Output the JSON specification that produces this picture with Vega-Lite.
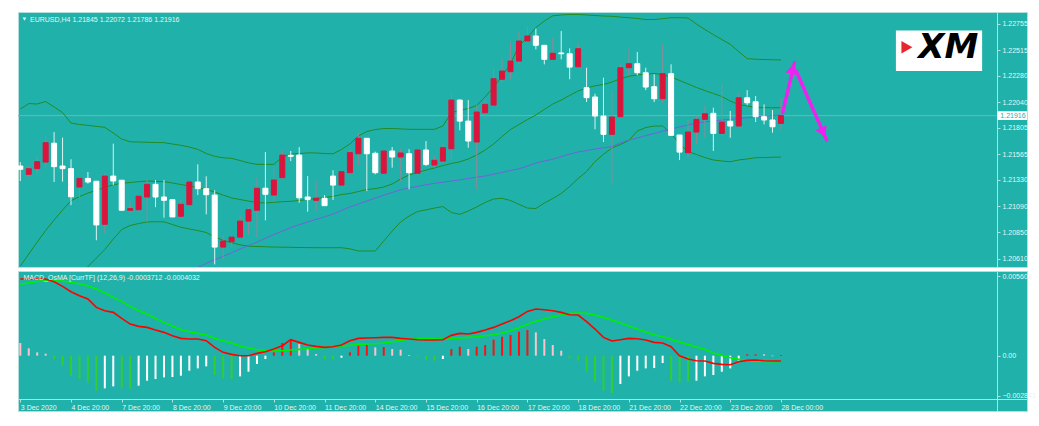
{
"$schema":"https://vega.github.io/schema/vega-lite/v6.json",
"background":"#ffffff",
"padding":{"left":16,"top":11,"right":14,"bottom":18},
"spacing":2,
"config":{
 "view":{"fill":"#20B2AA","stroke":"#b4dedb","strokeWidth":1},
 "font":"Liberation Sans",
 "axis":{"grid":false,"labelFont":"Liberation Sans","labelFontSize":7,"labelColor":"#e8f4f3","domainColor":"#b4dedb","tickColor":"#b4dedb","tickSize":3,"labelOverlap":false,"labelFlush":false}
},
"datasets":{
"bars":[
{"i":0,"o":1.21456,"h":1.21492,"l":1.21319,"c":1.21426,"ub":1.21976,"mb":1.20543,"lb":1.19109,"ma":null},
{"i":1,"o":1.21380,"h":1.21456,"l":1.21358,"c":1.21431,"ub":1.22026,"mb":1.20652,"lb":1.19278,"ma":null},
{"i":2,"o":1.21432,"h":1.21538,"l":1.21380,"c":1.21496,"ub":1.22022,"mb":1.20762,"lb":1.19502,"ma":null},
{"i":3,"o":1.21492,"h":1.21730,"l":1.21435,"c":1.21669,"ub":1.22045,"mb":1.20867,"lb":1.19689,"ma":null},
{"i":4,"o":1.21664,"h":1.21766,"l":1.21310,"c":1.21450,"ub":1.21995,"mb":1.20963,"lb":1.19931,"ma":null},
{"i":5,"o":1.21456,"h":1.21715,"l":1.21313,"c":1.21432,"ub":1.21944,"mb":1.21054,"lb":1.20164,"ma":null},
{"i":6,"o":1.21432,"h":1.21517,"l":1.21099,"c":1.21175,"ub":1.21848,"mb":1.21139,"lb":1.20360,"ma":null},
{"i":7,"o":1.21264,"h":1.21343,"l":1.21166,"c":1.21343,"ub":1.21835,"mb":1.21177,"lb":1.20452,"ma":null},
{"i":8,"o":1.21343,"h":1.21401,"l":1.21295,"c":1.21310,"ub":1.21827,"mb":1.21209,"lb":1.20538,"ma":null},
{"i":9,"o":1.21317,"h":1.21317,"l":1.20778,"c":1.20918,"ub":1.21818,"mb":1.21234,"lb":1.20616,"ma":null},
{"i":10,"o":1.20924,"h":1.21395,"l":1.20840,"c":1.21364,"ub":1.21809,"mb":1.21260,"lb":1.20694,"ma":null},
{"i":11,"o":1.21364,"h":1.21660,"l":1.21282,"c":1.21319,"ub":1.21757,"mb":1.21285,"lb":1.20789,"ma":null},
{"i":12,"o":1.21326,"h":1.21326,"l":1.21052,"c":1.21052,"ub":1.21702,"mb":1.21298,"lb":1.20876,"ma":null},
{"i":13,"o":1.21052,"h":1.21131,"l":1.21036,"c":1.21067,"ub":1.21677,"mb":1.21305,"lb":1.20913,"ma":null},
{"i":14,"o":1.21057,"h":1.21180,"l":1.21045,"c":1.21180,"ub":1.21675,"mb":1.21313,"lb":1.20931,"ma":null},
{"i":15,"o":1.21173,"h":1.21334,"l":1.20947,"c":1.21289,"ub":1.21673,"mb":1.21319,"lb":1.20945,"ma":null},
{"i":16,"o":1.21289,"h":1.21328,"l":1.21081,"c":1.21173,"ub":1.21670,"mb":1.21316,"lb":1.20947,"ma":null},
{"i":17,"o":1.21173,"h":1.21328,"l":1.20984,"c":1.21143,"ub":1.21669,"mb":1.21313,"lb":1.20946,"ma":null},
{"i":18,"o":1.21149,"h":1.21149,"l":1.20991,"c":1.20991,"ub":1.21657,"mb":1.21301,"lb":1.20922,"ma":null},
{"i":19,"o":1.20997,"h":1.21149,"l":1.20984,"c":1.21107,"ub":1.21645,"mb":1.21287,"lb":1.20897,"ma":null},
{"i":20,"o":1.21103,"h":1.21310,"l":1.21103,"c":1.21310,"ub":1.21629,"mb":1.21273,"lb":1.20881,"ma":null},
{"i":21,"o":1.21310,"h":1.21471,"l":1.21191,"c":1.21249,"ub":1.21608,"mb":1.21260,"lb":1.20867,"ma":1.20529},
{"i":22,"o":1.21249,"h":1.21362,"l":1.21015,"c":1.21194,"ub":1.21570,"mb":1.21241,"lb":1.20849,"ma":1.20568},
{"i":23,"o":1.21191,"h":1.21234,"l":1.20558,"c":1.20716,"ub":1.21544,"mb":1.21219,"lb":1.20808,"ma":1.20602},
{"i":24,"o":1.20716,"h":1.20826,"l":1.20604,"c":1.20771,"ub":1.21531,"mb":1.21191,"lb":1.20778,"ma":1.20631},
{"i":25,"o":1.20764,"h":1.20831,"l":1.20716,"c":1.20807,"ub":1.21526,"mb":1.21164,"lb":1.20757,"ma":1.20665},
{"i":26,"o":1.20807,"h":1.20999,"l":1.20807,"c":1.20953,"ub":1.21506,"mb":1.21150,"lb":1.20736,"ma":1.20698},
{"i":27,"o":1.20953,"h":1.21081,"l":1.20831,"c":1.21057,"ub":1.21485,"mb":1.21136,"lb":1.20724,"ma":1.20730},
{"i":28,"o":1.21052,"h":1.21350,"l":1.20801,"c":1.21253,"ub":1.21471,"mb":1.21123,"lb":1.20721,"ma":1.20762},
{"i":29,"o":1.21253,"h":1.21584,"l":1.20960,"c":1.21198,"ub":1.21471,"mb":1.21118,"lb":1.20719,"ma":1.20796},
{"i":30,"o":1.21191,"h":1.21441,"l":1.21127,"c":1.21328,"ub":1.21471,"mb":1.21124,"lb":1.20716,"ma":1.20829},
{"i":31,"o":1.21350,"h":1.21600,"l":1.21334,"c":1.21556,"ub":1.21538,"mb":1.21130,"lb":1.20715,"ma":1.20862},
{"i":32,"o":1.21554,"h":1.21593,"l":1.21501,"c":1.21545,"ub":1.21565,"mb":1.21134,"lb":1.20714,"ma":1.20894},
{"i":33,"o":1.21556,"h":1.21629,"l":1.21121,"c":1.21166,"ub":1.21570,"mb":1.21141,"lb":1.20712,"ma":1.20920},
{"i":34,"o":1.21173,"h":1.21364,"l":1.21039,"c":1.21149,"ub":1.21576,"mb":1.21150,"lb":1.20711,"ma":1.20945},
{"i":35,"o":1.21143,"h":1.21326,"l":1.21045,"c":1.21162,"ub":1.21575,"mb":1.21159,"lb":1.20710,"ma":1.20969},
{"i":36,"o":1.21162,"h":1.21191,"l":1.21094,"c":1.21094,"ub":1.21570,"mb":1.21168,"lb":1.20710,"ma":1.20992},
{"i":37,"o":1.21364,"h":1.21417,"l":1.21145,"c":1.21282,"ub":1.21567,"mb":1.21179,"lb":1.20710,"ma":1.21018},
{"i":38,"o":1.21282,"h":1.21404,"l":1.21282,"c":1.21404,"ub":1.21607,"mb":1.21196,"lb":1.20710,"ma":1.21050},
{"i":39,"o":1.21395,"h":1.21609,"l":1.21380,"c":1.21578,"ub":1.21657,"mb":1.21205,"lb":1.20700,"ma":1.21082},
{"i":40,"o":1.21568,"h":1.21760,"l":1.21456,"c":1.21709,"ub":1.21730,"mb":1.21223,"lb":1.20680,"ma":1.21109},
{"i":41,"o":1.21709,"h":1.21709,"l":1.21227,"c":1.21568,"ub":1.21771,"mb":1.21241,"lb":1.20680,"ma":1.21136},
{"i":42,"o":1.21572,"h":1.21587,"l":1.21380,"c":1.21395,"ub":1.21789,"mb":1.21250,"lb":1.20680,"ma":1.21164},
{"i":43,"o":1.21390,"h":1.21593,"l":1.21380,"c":1.21593,"ub":1.21798,"mb":1.21264,"lb":1.20771,"ma":1.21189},
{"i":44,"o":1.21593,"h":1.21629,"l":1.21441,"c":1.21538,"ub":1.21798,"mb":1.21292,"lb":1.20862,"ma":1.21214},
{"i":45,"o":1.21538,"h":1.21618,"l":1.21313,"c":1.21575,"ub":1.21795,"mb":1.21337,"lb":1.20945,"ma":1.21239},
{"i":46,"o":1.21568,"h":1.21609,"l":1.21244,"c":1.21395,"ub":1.21791,"mb":1.21374,"lb":1.20999,"ma":1.21255},
{"i":47,"o":1.21390,"h":1.21602,"l":1.21371,"c":1.21602,"ub":1.21791,"mb":1.21397,"lb":1.21040,"ma":1.21271},
{"i":48,"o":1.21602,"h":1.21684,"l":1.21456,"c":1.21471,"ub":1.21791,"mb":1.21419,"lb":1.21056,"ma":1.21285},
{"i":49,"o":1.21465,"h":1.21547,"l":1.21441,"c":1.21508,"ub":1.21791,"mb":1.21438,"lb":1.21072,"ma":1.21298},
{"i":50,"o":1.21501,"h":1.21654,"l":1.21486,"c":1.21623,"ub":1.21821,"mb":1.21460,"lb":1.21086,"ma":1.21308},
{"i":51,"o":1.21613,"h":1.22119,"l":1.21517,"c":1.22058,"ub":1.21944,"mb":1.21479,"lb":1.21031,"ma":1.21319},
{"i":52,"o":1.22058,"h":1.22064,"l":1.21782,"c":1.21866,"ub":1.21963,"mb":1.21494,"lb":1.21015,"ma":1.21330},
{"i":53,"o":1.21866,"h":1.22058,"l":1.21623,"c":1.21684,"ub":1.21981,"mb":1.21520,"lb":1.21045,"ma":1.21342},
{"i":54,"o":1.21675,"h":1.22010,"l":1.21244,"c":1.21949,"ub":1.22008,"mb":1.21556,"lb":1.21082,"ma":1.21354},
{"i":55,"o":1.21942,"h":1.22080,"l":1.21897,"c":1.22019,"ub":1.22086,"mb":1.21602,"lb":1.21123,"ma":1.21365},
{"i":56,"o":1.22012,"h":1.22353,"l":1.22003,"c":1.22253,"ub":1.22177,"mb":1.21657,"lb":1.21155,"ma":1.21381},
{"i":57,"o":1.22248,"h":1.22436,"l":1.22223,"c":1.22323,"ub":1.22278,"mb":1.21725,"lb":1.21161,"ma":1.21398},
{"i":58,"o":1.22317,"h":1.22582,"l":1.22248,"c":1.22414,"ub":1.22387,"mb":1.21789,"lb":1.21141,"ma":1.21415},
{"i":59,"o":1.22414,"h":1.22679,"l":1.22384,"c":1.22597,"ub":1.22556,"mb":1.21835,"lb":1.21106,"ma":1.21430},
{"i":60,"o":1.22597,"h":1.22728,"l":1.22582,"c":1.22643,"ub":1.22625,"mb":1.21880,"lb":1.21072,"ma":1.21456},
{"i":61,"o":1.22643,"h":1.22710,"l":1.22521,"c":1.22558,"ub":1.22720,"mb":1.21922,"lb":1.21068,"ma":1.21483},
{"i":62,"o":1.22558,"h":1.22558,"l":1.22384,"c":1.22430,"ub":1.22780,"mb":1.21972,"lb":1.21118,"ma":1.21502},
{"i":63,"o":1.22430,"h":1.22627,"l":1.22430,"c":1.22485,"ub":1.22827,"mb":1.22022,"lb":1.21159,"ma":1.21518},
{"i":64,"o":1.22488,"h":1.22688,"l":1.22430,"c":1.22481,"ub":1.22835,"mb":1.22058,"lb":1.21205,"ma":1.21543},
{"i":65,"o":1.22481,"h":1.22530,"l":1.22248,"c":1.22359,"ub":1.22839,"mb":1.22100,"lb":1.21269,"ma":1.21565},
{"i":66,"o":1.22362,"h":1.22576,"l":1.22353,"c":1.22527,"ub":1.22839,"mb":1.22141,"lb":1.21342,"ma":1.21584},
{"i":67,"o":1.22171,"h":1.22353,"l":1.22040,"c":1.22080,"ub":1.22835,"mb":1.22168,"lb":1.21406,"ma":1.21597},
{"i":68,"o":1.22086,"h":1.22116,"l":1.21791,"c":1.21912,"ub":1.22830,"mb":1.22188,"lb":1.21497,"ma":1.21611},
{"i":69,"o":1.21912,"h":1.22262,"l":1.21675,"c":1.21745,"ub":1.22825,"mb":1.22200,"lb":1.21563,"ma":1.21622},
{"i":70,"o":1.21745,"h":1.22140,"l":1.21289,"c":1.21903,"ub":1.22823,"mb":1.22223,"lb":1.21620,"ma":1.21634},
{"i":71,"o":1.21906,"h":1.22384,"l":1.21906,"c":1.22353,"ub":1.22816,"mb":1.22252,"lb":1.21652,"ma":1.21666},
{"i":72,"o":1.22353,"h":1.22527,"l":1.22278,"c":1.22390,"ub":1.22810,"mb":1.22275,"lb":1.21689,"ma":1.21693},
{"i":73,"o":1.22390,"h":1.22497,"l":1.22284,"c":1.22308,"ub":1.22803,"mb":1.22287,"lb":1.21775,"ma":1.21712},
{"i":74,"o":1.22307,"h":1.22353,"l":1.22149,"c":1.22177,"ub":1.22793,"mb":1.22294,"lb":1.21807,"ma":1.21734},
{"i":75,"o":1.22180,"h":1.22293,"l":1.22040,"c":1.22070,"ub":1.22793,"mb":1.22301,"lb":1.21821,"ma":1.21754},
{"i":76,"o":1.22070,"h":1.22567,"l":1.22033,"c":1.22299,"ub":1.22801,"mb":1.22289,"lb":1.21821,"ma":1.21774},
{"i":77,"o":1.22299,"h":1.22384,"l":1.21736,"c":1.21736,"ub":1.22810,"mb":1.22268,"lb":1.21753,"ma":1.21794},
{"i":78,"o":1.21739,"h":1.21739,"l":1.21510,"c":1.21583,"ub":1.22810,"mb":1.22237,"lb":1.21657,"ma":1.21812},
{"i":79,"o":1.21577,"h":1.21876,"l":1.21531,"c":1.21766,"ub":1.22807,"mb":1.22205,"lb":1.21588,"ma":1.21830},
{"i":80,"o":1.21766,"h":1.21918,"l":1.21659,"c":1.21882,"ub":1.22752,"mb":1.22173,"lb":1.21561,"ma":1.21848},
{"i":81,"o":1.21882,"h":1.22003,"l":1.21714,"c":1.21933,"ub":1.22702,"mb":1.22145,"lb":1.21533,"ma":1.21858},
{"i":82,"o":1.21937,"h":1.21988,"l":1.21593,"c":1.21754,"ub":1.22656,"mb":1.22118,"lb":1.21511,"ma":1.21867},
{"i":83,"o":1.21754,"h":1.22201,"l":1.21730,"c":1.21857,"ub":1.22611,"mb":1.22090,"lb":1.21502,"ma":1.21876},
{"i":84,"o":1.21864,"h":1.21958,"l":1.21714,"c":1.21821,"ub":1.22567,"mb":1.22049,"lb":1.21495,"ma":1.21882},
{"i":85,"o":1.21821,"h":1.22119,"l":1.21814,"c":1.22079,"ub":1.22501,"mb":1.22017,"lb":1.21511,"ma":1.21890},
{"i":86,"o":1.22079,"h":1.22149,"l":1.22010,"c":1.22033,"ub":1.22436,"mb":1.22004,"lb":1.21520,"ma":1.21896},
{"i":87,"o":1.22043,"h":1.22095,"l":1.21857,"c":1.21906,"ub":1.22431,"mb":1.21990,"lb":1.21532,"ma":1.21903},
{"i":88,"o":1.21906,"h":1.22019,"l":1.21836,"c":1.21876,"ub":1.22428,"mb":1.21988,"lb":1.21533,"ma":1.21910},
{"i":89,"o":1.21876,"h":1.21967,"l":1.21760,"c":1.21814,"ub":1.22426,"mb":1.21988,"lb":1.21536,"ma":1.21916},
{"i":90,"o":1.21845,"h":1.22072,"l":1.21786,"c":1.21916,"ub":1.22424,"mb":1.21988,"lb":1.21538,"ma":1.21922}
],
"macd":[
{"i":0,"m":0.005412,"s":0.005035,"h":0.000894,"k":"pos_down"},
{"i":1,"m":0.005412,"s":0.005153,"h":0.000518,"k":"pos_down"},
{"i":2,"m":0.005412,"s":0.005247,"h":0.000235,"k":"pos_down"},
{"i":3,"m":0.005412,"s":0.005294,"h":0.000141,"k":"pos_down"},
{"i":4,"m":0.005224,"s":0.005294,"h":-0.000235,"k":"neg_down"},
{"i":5,"m":0.004894,"s":0.005271,"h":-0.000706,"k":"neg_down"},
{"i":6,"m":0.004518,"s":0.005177,"h":-0.001412,"k":"neg_down"},
{"i":7,"m":0.004235,"s":0.005082,"h":-0.001647,"k":"neg_down"},
{"i":8,"m":0.004000,"s":0.004941,"h":-0.001882,"k":"neg_down"},
{"i":9,"m":0.003412,"s":0.004706,"h":-0.002471,"k":"neg_down"},
{"i":10,"m":0.003177,"s":0.004447,"h":-0.002306,"k":"neg_up"},
{"i":11,"m":0.003059,"s":0.004118,"h":-0.002165,"k":"neg_up"},
{"i":12,"m":0.002635,"s":0.003835,"h":-0.002306,"k":"neg_down"},
{"i":13,"m":0.002235,"s":0.003482,"h":-0.002330,"k":"neg_down"},
{"i":14,"m":0.002071,"s":0.003177,"h":-0.002118,"k":"neg_up"},
{"i":15,"m":0.002000,"s":0.002941,"h":-0.001765,"k":"neg_up"},
{"i":16,"m":0.001812,"s":0.002635,"h":-0.001647,"k":"neg_up"},
{"i":17,"m":0.001647,"s":0.002353,"h":-0.001529,"k":"neg_up"},
{"i":18,"m":0.001412,"s":0.002094,"h":-0.001506,"k":"neg_up"},
{"i":19,"m":0.001224,"s":0.001835,"h":-0.001412,"k":"neg_up"},
{"i":20,"m":0.001177,"s":0.001694,"h":-0.001059,"k":"neg_up"},
{"i":21,"m":0.001177,"s":0.001577,"h":-0.000894,"k":"neg_up"},
{"i":22,"m":0.001059,"s":0.001459,"h":-0.000753,"k":"neg_up"},
{"i":23,"m":0.000588,"s":0.001224,"h":-0.001365,"k":"neg_down"},
{"i":24,"m":0.000235,"s":0.001059,"h":-0.001600,"k":"neg_down"},
{"i":25,"m":0.000094,"s":0.000894,"h":-0.001647,"k":"neg_down"},
{"i":26,"m":0.000000,"s":0.000682,"h":-0.001459,"k":"neg_up"},
{"i":27,"m":0.000000,"s":0.000541,"h":-0.001129,"k":"neg_up"},
{"i":28,"m":0.000165,"s":0.000424,"h":-0.000588,"k":"neg_up"},
{"i":29,"m":0.000282,"s":0.000376,"h":-0.000235,"k":"neg_up"},
{"i":30,"m":0.000471,"s":0.000353,"h":0.000235,"k":"pos_up"},
{"i":31,"m":0.000706,"s":0.000353,"h":0.000894,"k":"pos_up"},
{"i":32,"m":0.001129,"s":0.000400,"h":0.001177,"k":"pos_up"},
{"i":33,"m":0.000941,"s":0.000447,"h":0.000824,"k":"pos_down"},
{"i":34,"m":0.000753,"s":0.000494,"h":0.000471,"k":"pos_down"},
{"i":35,"m":0.000659,"s":0.000541,"h":0.000118,"k":"pos_down"},
{"i":36,"m":0.000588,"s":0.000588,"h":-0.000235,"k":"neg_down"},
{"i":37,"m":0.000635,"s":0.000635,"h":-0.000259,"k":"neg_down"},
{"i":38,"m":0.000753,"s":0.000682,"h":-0.000141,"k":"neg_up"},
{"i":39,"m":0.001059,"s":0.000729,"h":0.000235,"k":"pos_up"},
{"i":40,"m":0.001224,"s":0.000800,"h":0.000706,"k":"pos_up"},
{"i":41,"m":0.001247,"s":0.000824,"h":0.000753,"k":"pos_up"},
{"i":42,"m":0.001271,"s":0.000847,"h":0.000588,"k":"pos_down"},
{"i":43,"m":0.001294,"s":0.000894,"h":0.000612,"k":"pos_up"},
{"i":44,"m":0.001294,"s":0.000988,"h":0.000471,"k":"pos_down"},
{"i":45,"m":0.001224,"s":0.001082,"h":0.000424,"k":"pos_down"},
{"i":46,"m":0.001177,"s":0.001177,"h":0.000050,"k":"pos_down"},
{"i":47,"m":0.001129,"s":0.001200,"h":-0.000050,"k":"neg_down"},
{"i":48,"m":0.001106,"s":0.001224,"h":-0.000282,"k":"neg_down"},
{"i":49,"m":0.001106,"s":0.001200,"h":-0.000353,"k":"neg_down"},
{"i":50,"m":0.001129,"s":0.001177,"h":-0.000235,"k":"neg_up"},
{"i":51,"m":0.001435,"s":0.001224,"h":0.000471,"k":"pos_up"},
{"i":52,"m":0.001577,"s":0.001247,"h":0.000635,"k":"pos_up"},
{"i":53,"m":0.001529,"s":0.001294,"h":0.000471,"k":"pos_down"},
{"i":54,"m":0.001647,"s":0.001341,"h":0.000635,"k":"pos_up"},
{"i":55,"m":0.001812,"s":0.001412,"h":0.000753,"k":"pos_up"},
{"i":56,"m":0.002000,"s":0.001482,"h":0.001130,"k":"pos_up"},
{"i":57,"m":0.002235,"s":0.001600,"h":0.001341,"k":"pos_up"},
{"i":58,"m":0.002471,"s":0.001765,"h":0.001459,"k":"pos_up"},
{"i":59,"m":0.002753,"s":0.001977,"h":0.001694,"k":"pos_up"},
{"i":60,"m":0.003129,"s":0.002212,"h":0.001812,"k":"pos_up"},
{"i":61,"m":0.003294,"s":0.002424,"h":0.001647,"k":"pos_down"},
{"i":62,"m":0.003247,"s":0.002588,"h":0.001177,"k":"pos_down"},
{"i":63,"m":0.003177,"s":0.002753,"h":0.000753,"k":"pos_down"},
{"i":64,"m":0.003059,"s":0.002871,"h":0.000353,"k":"pos_down"},
{"i":65,"m":0.002894,"s":0.002988,"h":-0.000188,"k":"neg_down"},
{"i":66,"m":0.002871,"s":0.003012,"h":-0.000353,"k":"neg_down"},
{"i":67,"m":0.002400,"s":0.002988,"h":-0.001129,"k":"neg_down"},
{"i":68,"m":0.001882,"s":0.002871,"h":-0.001835,"k":"neg_down"},
{"i":69,"m":0.001294,"s":0.002706,"h":-0.002471,"k":"neg_down"},
{"i":70,"m":0.001035,"s":0.002518,"h":-0.002635,"k":"neg_down"},
{"i":71,"m":0.001129,"s":0.002306,"h":-0.002000,"k":"neg_up"},
{"i":72,"m":0.001224,"s":0.002094,"h":-0.001459,"k":"neg_up"},
{"i":73,"m":0.001200,"s":0.001882,"h":-0.001059,"k":"neg_up"},
{"i":74,"m":0.001106,"s":0.001671,"h":-0.000894,"k":"neg_up"},
{"i":75,"m":0.000941,"s":0.001482,"h":-0.000871,"k":"neg_up"},
{"i":76,"m":0.000894,"s":0.001341,"h":-0.000518,"k":"neg_up"},
{"i":77,"m":0.000635,"s":0.001153,"h":-0.001765,"k":"neg_down"},
{"i":78,"m":0.000000,"s":0.000965,"h":-0.001882,"k":"neg_down"},
{"i":79,"m":-0.000235,"s":0.000800,"h":-0.001835,"k":"neg_down"},
{"i":80,"m":-0.000353,"s":0.000612,"h":-0.001765,"k":"neg_up"},
{"i":81,"m":-0.000376,"s":0.000447,"h":-0.001459,"k":"neg_up"},
{"i":82,"m":-0.000541,"s":0.000188,"h":-0.001365,"k":"neg_up"},
{"i":83,"m":-0.000612,"s":0.000024,"h":-0.001129,"k":"neg_up"},
{"i":84,"m":-0.000635,"s":-0.000141,"h":-0.000894,"k":"neg_up"},
{"i":85,"m":-0.000424,"s":-0.000259,"h":-0.000353,"k":"neg_up"},
{"i":86,"m":-0.000329,"s":-0.000376,"h":0.000100,"k":"pos_up"},
{"i":87,"m":-0.000306,"s":-0.000400,"h":0.000100,"k":"pos_up"},
{"i":88,"m":-0.000353,"s":-0.000400,"h":0.000100,"k":"pos_down"},
{"i":89,"m":-0.000376,"s":-0.000424,"h":-0.000030,"k":"neg_up"},
{"i":90,"m":-0.000371,"s":-0.000403,"h":0.000050,"k":"pos_up"}
],
"arrows":[
{"i":90.2,"p":1.21943,"leg":"up"},
{"i":91.6,"p":1.22399,"leg":"up"},
{"i":91.8,"p":1.22323,"leg":"down"},
{"i":95.4,"p":1.21693,"leg":"down"}
]
},
"vconcat":[
{
 "width":1009,"height":255,
 "data":{"name":"bars"},
 "resolve":{"axis":{"y":"independent"}},
 "layer":[
  {"data":{"values":[{"p":1.21916}]},
   "mark":{"type":"rule","color":"#95a3a3","strokeWidth":1},
   "encoding":{
    "x":{"datum":-0.272,"scale":{"domain":[-0.272,119.11],"nice":false,"zero":false,"padding":0},"axis":null,"title":null},
    "x2":{"datum":115.56},
    "y":{"field":"p","type":"quantitative","scale":{"domain":[1.20534,1.22862],"nice":false,"zero":false},"title":null,
     "axis":{"orient":"right","offset":-30,"values":[1.2061,1.2085,1.2109,1.2133,1.21565,1.21805,1.2204,1.2228,1.22515,1.22755],"format":".5f","labelPadding":2,"tickSize":3,"labelAlign":"left","labelBaseline":"middle","labelOverlap":false,"labelBound":false}}
   }},
  {"mark":{"type":"line","color":"#228B22","strokeWidth":1,"clip":true},
   "encoding":{"x":{"field":"i","type":"quantitative","scale":{"domain":[-0.272,119.11],"nice":false,"zero":false,"padding":0},"axis":null,"title":null},
    "y":{"field":"ub","type":"quantitative","scale":{"domain":[1.20534,1.22862],"nice":false,"zero":false},"axis":null,"title":null}}},
  {"mark":{"type":"line","color":"#228B22","strokeWidth":1,"clip":true},
   "encoding":{"x":{"field":"i","type":"quantitative","scale":{"domain":[-0.272,119.11],"nice":false,"zero":false,"padding":0},"axis":null,"title":null},
    "y":{"field":"mb","type":"quantitative","scale":{"domain":[1.20534,1.22862],"nice":false,"zero":false},"axis":null,"title":null}}},
  {"mark":{"type":"line","color":"#228B22","strokeWidth":1,"clip":true},
   "encoding":{"x":{"field":"i","type":"quantitative","scale":{"domain":[-0.272,119.11],"nice":false,"zero":false,"padding":0},"axis":null,"title":null},
    "y":{"field":"lb","type":"quantitative","scale":{"domain":[1.20534,1.22862],"nice":false,"zero":false},"axis":null,"title":null}}},
  {"mark":{"type":"line","color":"#6f63d6","strokeWidth":1,"clip":true},
   "encoding":{"x":{"field":"i","type":"quantitative","scale":{"domain":[-0.272,119.11],"nice":false,"zero":false,"padding":0},"axis":null,"title":null},
    "y":{"field":"ma","type":"quantitative","scale":{"domain":[1.20534,1.22862],"nice":false,"zero":false},"axis":null,"title":null}}},
  {"mark":{"type":"rule","strokeWidth":1},
   "encoding":{"x":{"field":"i","type":"quantitative","scale":{"domain":[-0.272,119.11],"nice":false,"zero":false,"padding":0},"axis":null,"title":null},
    "y":{"field":"l","type":"quantitative","scale":{"domain":[1.20534,1.22862],"nice":false,"zero":false},"axis":null,"title":null},
    "y2":{"field":"h"},
    "color":{"condition":{"test":"datum.c >= datum.o","value":"#8a8c98"},"value":"#dcf2f0"}}},
  {"mark":{"type":"bar","size":5,"strokeWidth":1,"orient":"vertical"},
   "encoding":{"x":{"field":"i","type":"quantitative","scale":{"domain":[-0.272,119.11],"nice":false,"zero":false,"padding":0},"axis":null,"title":null},
    "y":{"field":"o","type":"quantitative","scale":{"domain":[1.20534,1.22862],"nice":false,"zero":false},"axis":null,"title":null},
    "y2":{"field":"c"},
    "color":{"condition":{"test":"datum.c >= datum.o","value":"#DC143C"},"value":"#FFFFFF"},
    "stroke":{"condition":{"test":"datum.c >= datum.o","value":"#DC143C"},"value":"#FFFFFF"}}},
  {"data":{"name":"arrows"},
   "mark":{"type":"line","color":"#EE22EE","strokeWidth":3.5,"strokeCap":"round"},
   "encoding":{"x":{"field":"i","type":"quantitative","scale":{"domain":[-0.272,119.11],"nice":false,"zero":false,"padding":0},"axis":null,"title":null},
    "y":{"field":"p","type":"quantitative","scale":{"domain":[1.20534,1.22862],"nice":false,"zero":false},"axis":null,"title":null},
    "detail":{"field":"leg"}}},
  {"data":{"values":[{}]},
   "mark":{"type":"point","shape":"triangle-up","filled":true,"color":"#EE22EE","size":150,"angle":13,"opacity":1},
   "encoding":{"x":{"datum":91.4,"axis":null},"y":{"datum":1.22345,"axis":null}}},
  {"data":{"values":[{}]},
   "mark":{"type":"point","shape":"triangle-down","filled":true,"color":"#EE22EE","size":150,"angle":336,"opacity":1},
   "encoding":{"x":{"datum":95.0,"axis":null},"y":{"datum":1.21762,"axis":null}}},
  {"data":{"values":[{}]},
   "mark":{"type":"rect","color":"#FFFFFF"},
   "encoding":{"x":{"datum":103.6,"axis":null},"x2":{"datum":113.8},"y":{"datum":1.22323,"axis":null},"y2":{"datum":1.22694}}},
  {"data":{"values":[{}]},
   "mark":{"type":"point","shape":"triangle-right","filled":true,"color":"#E8262B","size":160,"opacity":1},
   "encoding":{"x":{"datum":104.9,"axis":null},"y":{"datum":1.22540,"axis":null}}},
  {"data":{"values":[{}]},
   "mark":{"type":"text","text":"XM","font":"DejaVu Sans","fontSize":34,"fontWeight":"bold","fontStyle":"italic","color":"#000000","align":"center","baseline":"middle"},
   "encoding":{"x":{"datum":109.8,"axis":null},"y":{"datum":1.22535,"axis":null}}},
  {"data":{"values":[{}]},
   "mark":{"type":"rect","color":"#FFFFFF"},
   "encoding":{"x":{"datum":115.6,"axis":null},"x2":{"datum":119.11},"y":{"datum":1.21876,"axis":null},"y2":{"datum":1.21956}}},
  {"data":{"values":[{}]},
   "mark":{"type":"text","text":"1.21916","fontSize":7,"color":"#20B2AA","align":"left","baseline":"middle","dx":3},
   "encoding":{"x":{"datum":115.6,"axis":null},"y":{"datum":1.21916,"axis":null}}},
  {"data":{"values":[{}]},
   "mark":{"type":"point","shape":"triangle-down","filled":true,"color":"#e8f4f3","size":14,"opacity":1},
   "encoding":{"x":{"datum":0.5,"axis":null},"y":{"datum":1.22797,"axis":null}}},
  {"data":{"values":[{}]},
   "mark":{"type":"text","text":"EURUSD,H4  1.21845 1.22072 1.21786 1.21916","fontSize":7,"color":"#e8f4f3","align":"left","baseline":"middle"},
   "encoding":{"x":{"datum":1.15,"axis":null},"y":{"datum":1.22792,"axis":null}}}
 ]
},
{
 "width":1009,"height":140,
 "data":{"name":"macd"},
 "layer":[
  {"mark":{"type":"rule","strokeWidth":2},
   "encoding":{
    "x":{"field":"i","type":"quantitative","scale":{"domain":[-0.272,119.11],"nice":false,"zero":false,"padding":0},"title":null,
     "axis":{"orient":"bottom","offset":-12,"values":[0,6,12,18,24,30,36,42,48,54,60,66,72,78,84,90],"labelExpr":"['3 Dec 2020','4 Dec 20:00','7 Dec 20:00','8 Dec 20:00','9 Dec 20:00','10 Dec 20:00','11 Dec 20:00','14 Dec 20:00','15 Dec 20:00','16 Dec 20:00','17 Dec 20:00','18 Dec 20:00','21 Dec 20:00','22 Dec 20:00','23 Dec 20:00','28 Dec 00:00'][round(datum.value/6)]","labelAlign":"left","labelBaseline":"top","labelPadding":1,"tickSize":3,"labelOverlap":false,"labelBound":false}},
    "y":{"field":"h","type":"quantitative","scale":{"domain":[-0.003904,0.00598],"nice":false,"zero":false},"title":null,
     "axis":{"orient":"right","offset":-30,"values":[0.005602,0,-0.002841],"labelExpr":"datum.value == 0 ? '0.00' : format(datum.value, '.6f')","labelPadding":2,"tickSize":3,"labelAlign":"left","labelBaseline":"middle","labelOverlap":false,"labelBound":false}},
    "y2":{"datum":0},
    "color":{"field":"k","type":"nominal","scale":{"domain":["pos_up","pos_down","neg_down","neg_up"],"range":["#FF1010","#FFC0CB","#32CD32","#FFFFFF"]},"legend":null}
   }},
  {"mark":{"type":"line","color":"#00EE00","strokeWidth":1.6},
   "encoding":{"x":{"field":"i","type":"quantitative","scale":{"domain":[-0.272,119.11],"nice":false,"zero":false,"padding":0},"title":null},
    "y":{"field":"s","type":"quantitative","scale":{"domain":[-0.003904,0.00598],"nice":false,"zero":false},"title":null}}},
  {"mark":{"type":"line","color":"#FF0000","strokeWidth":1.6},
   "encoding":{"x":{"field":"i","type":"quantitative","scale":{"domain":[-0.272,119.11],"nice":false,"zero":false,"padding":0},"title":null},
    "y":{"field":"m","type":"quantitative","scale":{"domain":[-0.003904,0.00598],"nice":false,"zero":false},"title":null}}},
  {"data":{"values":[{}]},
   "mark":{"type":"text","text":"MACD_OsMA [CurrTF] (12,26,9) -0.0003712 -0.0004032","fontSize":7,"color":"#e8f4f3","align":"left","baseline":"middle"},
   "encoding":{"x":{"datum":0.38},"y":{"datum":0.005464}}}
 ]
}
]
}
